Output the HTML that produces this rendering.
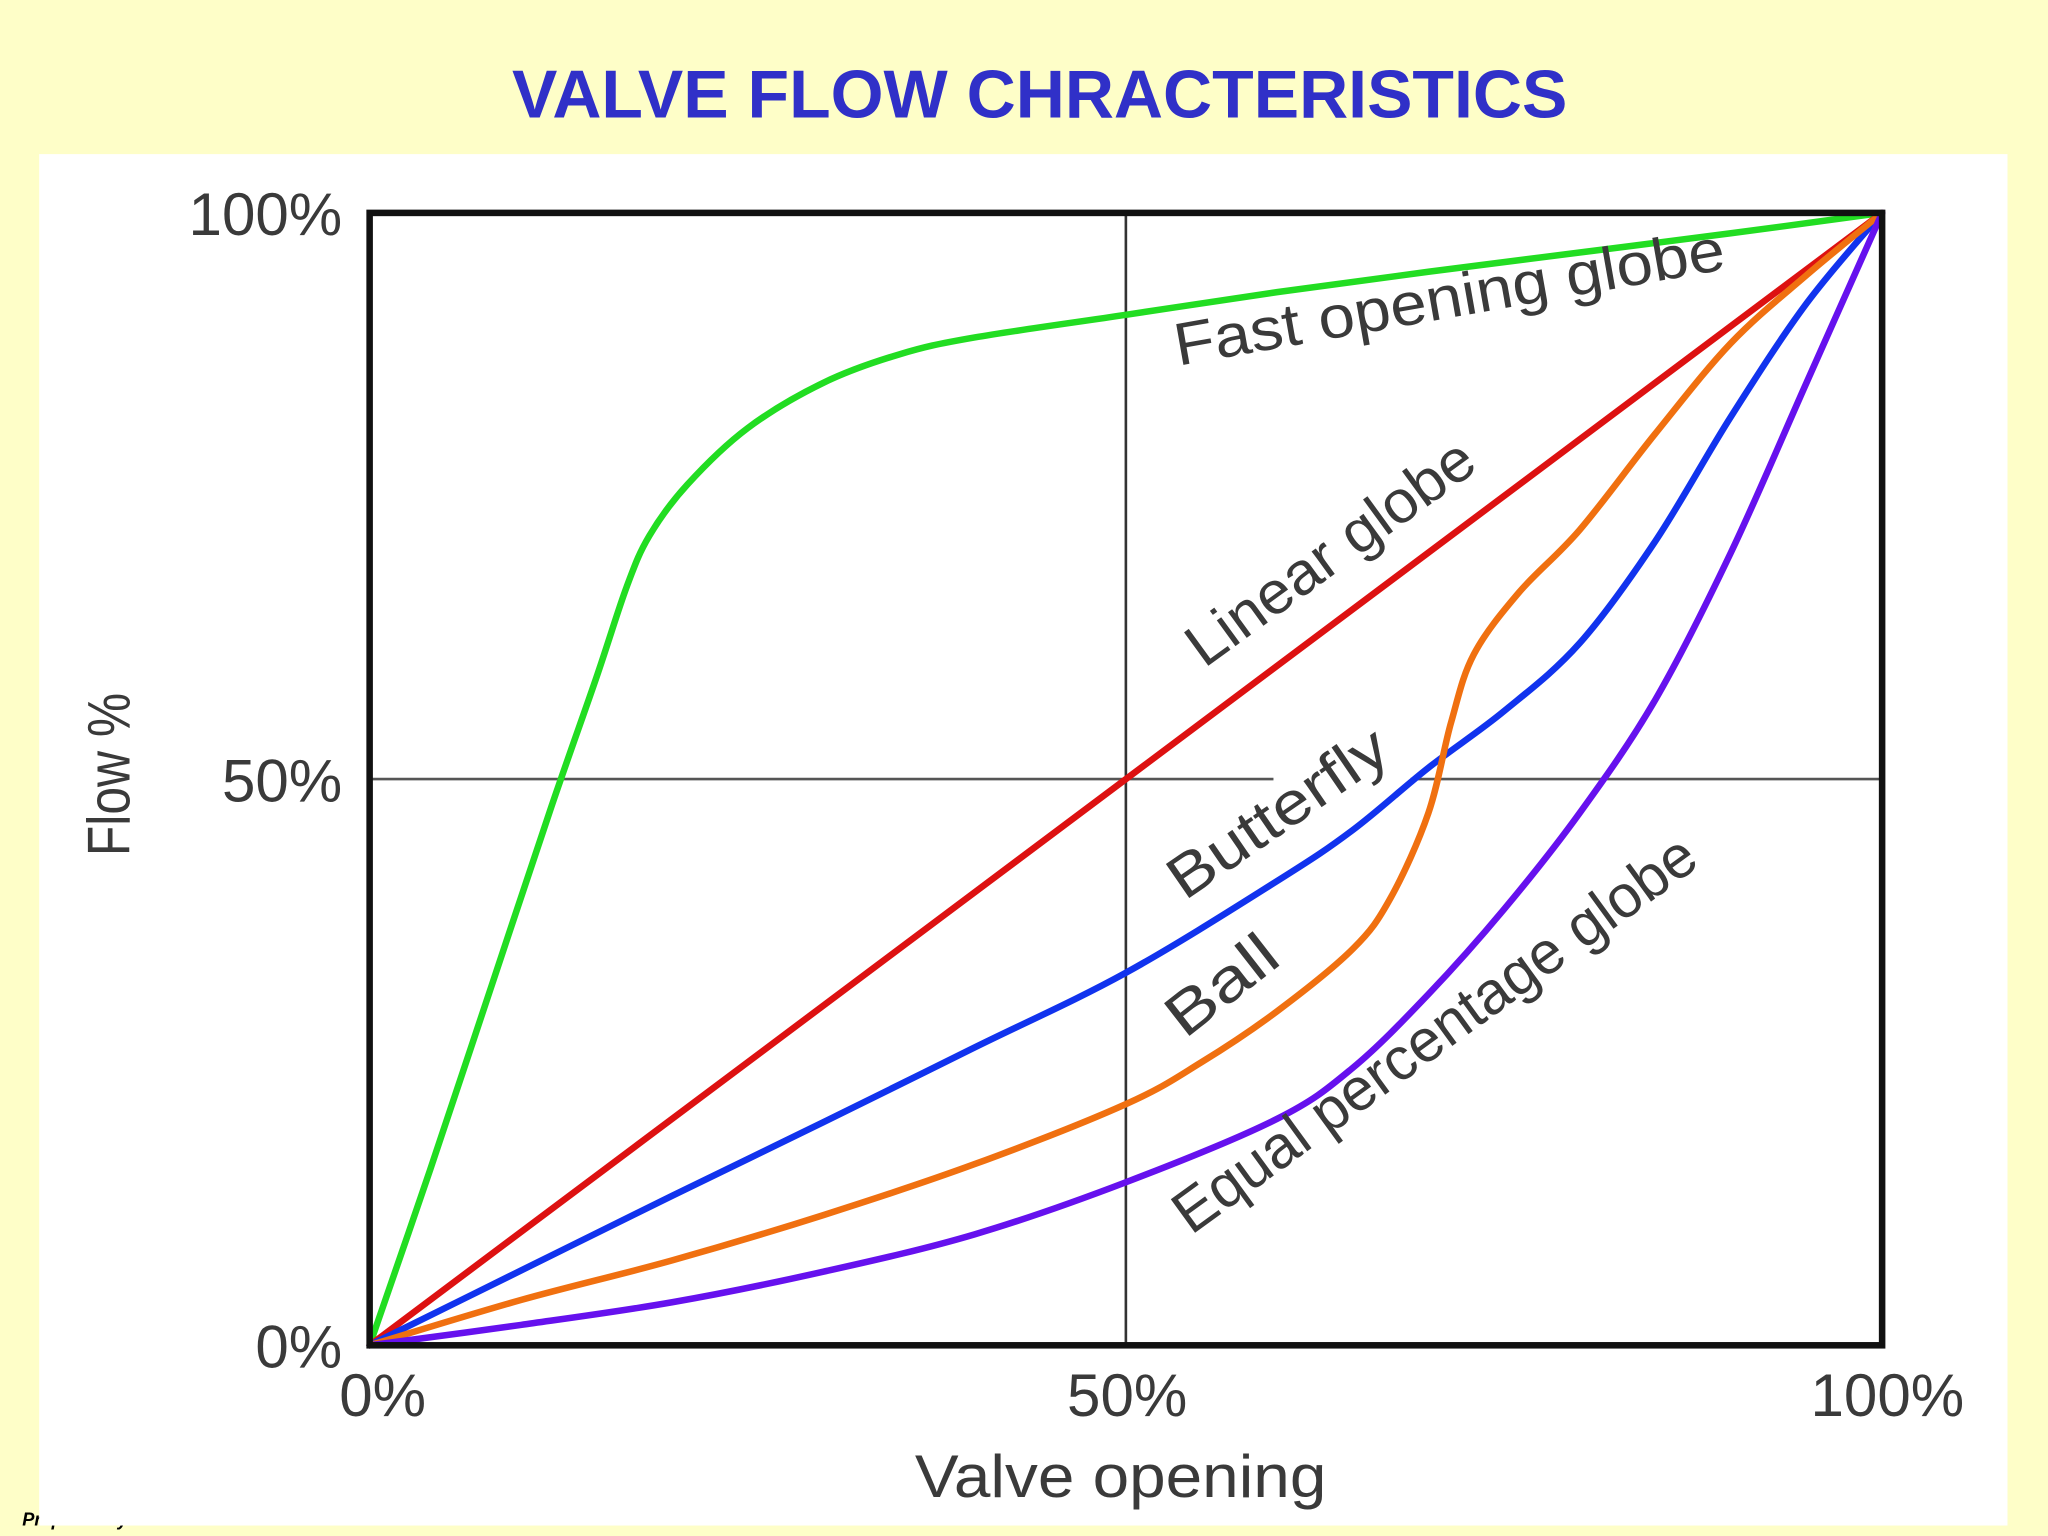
<!DOCTYPE html>
<html><head><meta charset="utf-8"><style>
html,body{margin:0;padding:0;background:#fefec8;}
svg{display:block}
</style></head><body>
<svg id="chart" width="2048" height="1536" viewBox="0 0 1568 1176" xmlns="http://www.w3.org/2000/svg">
<rect x="0" y="0" width="1568" height="1176" fill="#fefec8"/>
<text x="17" y="1168" font-family="Liberation Sans, sans-serif" font-size="14" font-weight="bold" font-style="italic" fill="#000">Prepared by</text>
<rect x="30" y="118" width="1507" height="1050" fill="#ffffff"/>
<text x="796" y="90" text-anchor="middle" font-family="Liberation Sans, sans-serif" font-size="52" font-weight="bold" fill="#3030c8" textLength="808" lengthAdjust="spacingAndGlyphs">VALVE FLOW CHRACTERISTICS</text>
<g id="grid"></g>
<g id="series"></g>
<rect x="283" y="163" width="1158" height="867" fill="none" stroke="#111" stroke-width="5"/>
<g id="labels" font-family="Liberation Sans, sans-serif" fill="#3a3a3a"></g>
</svg>
<script>
const xTicks = [0, 50, 100];
const yTicks = [0, 50, 100];
const xTickLabels = ["0%", "50%", "100%"];
const yTickLabels = ["0%", "50%", "100%"];
const seriesNames = ["Fast opening globe", "Linear globe", "Butterfly", "Ball", "Equal percentage globe"];
const fastX = [0, 4, 8, 12, 15, 17, 18.5, 21, 25, 30, 35, 40, 50, 60, 70, 80, 90, 100];
const fastY = [0, 15.5, 31.5, 47.5, 59, 67, 71.5, 76, 81, 85, 87.5, 89, 91, 93, 94.8, 96.5, 98.2, 100];
const linearX = [0, 100];
const linearY = [0, 100];
const butterflyX = [0, 10, 20, 30, 40, 50, 60, 65, 70, 75, 80, 85, 90, 95, 100];
const butterflyY = [0, 6.6, 13.2, 19.7, 26.3, 32.9, 41, 45.5, 51, 56, 62, 71, 82, 92, 100];
const ballX = [0, 10, 20, 30, 40, 50, 55, 60, 65, 67.5, 70, 71.5, 73, 76, 80, 85, 90, 95, 100];
const ballY = [0, 4, 7.5, 11.5, 16, 21.3, 25, 29.5, 35, 39.5, 47, 55, 61, 66.5, 72, 80.5, 88.5, 94.5, 100];
const eqX = [0, 10, 20, 30, 40, 50, 60, 65, 70, 75, 80, 85, 90, 95, 100];
const eqY = [0, 1.8, 3.8, 6.5, 9.8, 14.4, 20, 24.5, 31, 38.5, 47, 57, 70, 85, 100];

const NS = "http://www.w3.org/2000/svg";
const L = 283, R = 1441, T = 163, B = 1030;
const sx = v => L + (v / 100) * (R - L);
const sy = v => B - (v / 100) * (B - T);

function mk(tag, attrs, parent) {
  const e = document.createElementNS(NS, tag);
  for (const k in attrs) e.setAttribute(k, attrs[k]);
  parent.appendChild(e);
  return e;
}
function pathFrom(xs, ys) {
  const p = xs.map((x, i) => [sx(x), sy(ys[i])]);
  if (p.length < 3) return "M" + p.map(q => q.join(",")).join("L");
  let d = "M" + p[0][0] + "," + p[0][1];
  for (let i = 0; i < p.length - 1; i++) {
    const p0 = p[i - 1] || p[i], p1 = p[i], p2 = p[i + 1], p3 = p[i + 2] || p[i + 1];
    const c1 = [p1[0] + (p2[0] - p0[0]) / 6, p1[1] + (p2[1] - p0[1]) / 6];
    const c2 = [p2[0] - (p3[0] - p1[0]) / 6, p2[1] - (p3[1] - p1[1]) / 6];
    d += "C" + c1.join(",") + " " + c2.join(",") + " " + p2.join(",");
  }
  return d;
}

const grid = document.getElementById("grid");
let g1 = mk("line", {x1: sx(50), y1: sy(0), x2: sx(50), y2: sy(100), stroke: "#333", "stroke-width": 2}, grid);


let g2 = mk("line", {x1: sx(0), y1: sy(50), x2: 975, y2: sy(50), stroke: "#555", "stroke-width": 2}, grid);


let g3 = mk("line", {x1: 1080, y1: sy(50), x2: sx(100), y2: sy(50), stroke: "#555", "stroke-width": 2}, grid);



const series = document.getElementById("series");
const defs = [
  [fastX, fastY, "#22dd22", "fast-opening-globe-line"],
  [linearX, linearY, "#dd1111", "linear-globe-line"],
  [butterflyX, butterflyY, "#1133ee", "butterfly-line"],
  [ballX, ballY, "#f07010", "ball-line"],
  [eqX, eqY, "#6611ee", "equal-percentage-globe-line"]
];
defs.forEach(s => {
  const p = mk("path", {d: pathFrom(s[0], s[1]), fill: "none", stroke: s[2], "stroke-width": 5, "stroke-linejoin": "round", "stroke-linecap": "round"}, series);
  
  
});

const labels = document.getElementById("labels");
yTicks.forEach((v, i) => {
  const t = mk("text", {x: 262, y: sy(v) + 17, "text-anchor": "end", "font-size": 46}, labels);
  t.textContent = yTickLabels[i];
  
  
});
xTicks.forEach((v, i) => {
  const t = mk("text", {x: sx(v) + (i === 0 ? 10 : i === 2 ? 4 : 1), y: 1084, "text-anchor": "middle", "font-size": 46}, labels);
  t.textContent = xTickLabels[i];
  
  
});
let xt = mk("text", {x: 858, y: 1146, "text-anchor": "middle", "font-size": 46, textLength: 315, lengthAdjust: "spacingAndGlyphs"}, labels);
xt.textContent = "Valve opening";


let yt = mk("text", {x: 0, y: 0, "text-anchor": "middle", "font-size": 46, textLength: 125, lengthAdjust: "spacingAndGlyphs", transform: "translate(99,593) rotate(-90)"}, labels);
yt.textContent = "Flow %";



const annot = [
  [seriesNames[0], 902, 280, -10, 427, "fast-opening-globe-label"],
  [seriesNames[1], 922, 512, -36, 261, "linear-globe-label"],
  [seriesNames[2], 907, 690, -34.5, 194, "butterfly-label"],
  [seriesNames[3], 907, 796, -38, 96, "ball-label"],
  [seriesNames[4], 912, 946, -36, 483, "equal-percentage-globe-label"]
];
annot.forEach(a => {
  const t = mk("text", {x: 0, y: 0, "font-size": 46, textLength: a[4], lengthAdjust: "spacingAndGlyphs", transform: "translate(" + a[1] + "," + a[2] + ") rotate(" + a[3] + ")"}, labels);
  t.textContent = a[0];
  
  
});
</script>
</body></html>
